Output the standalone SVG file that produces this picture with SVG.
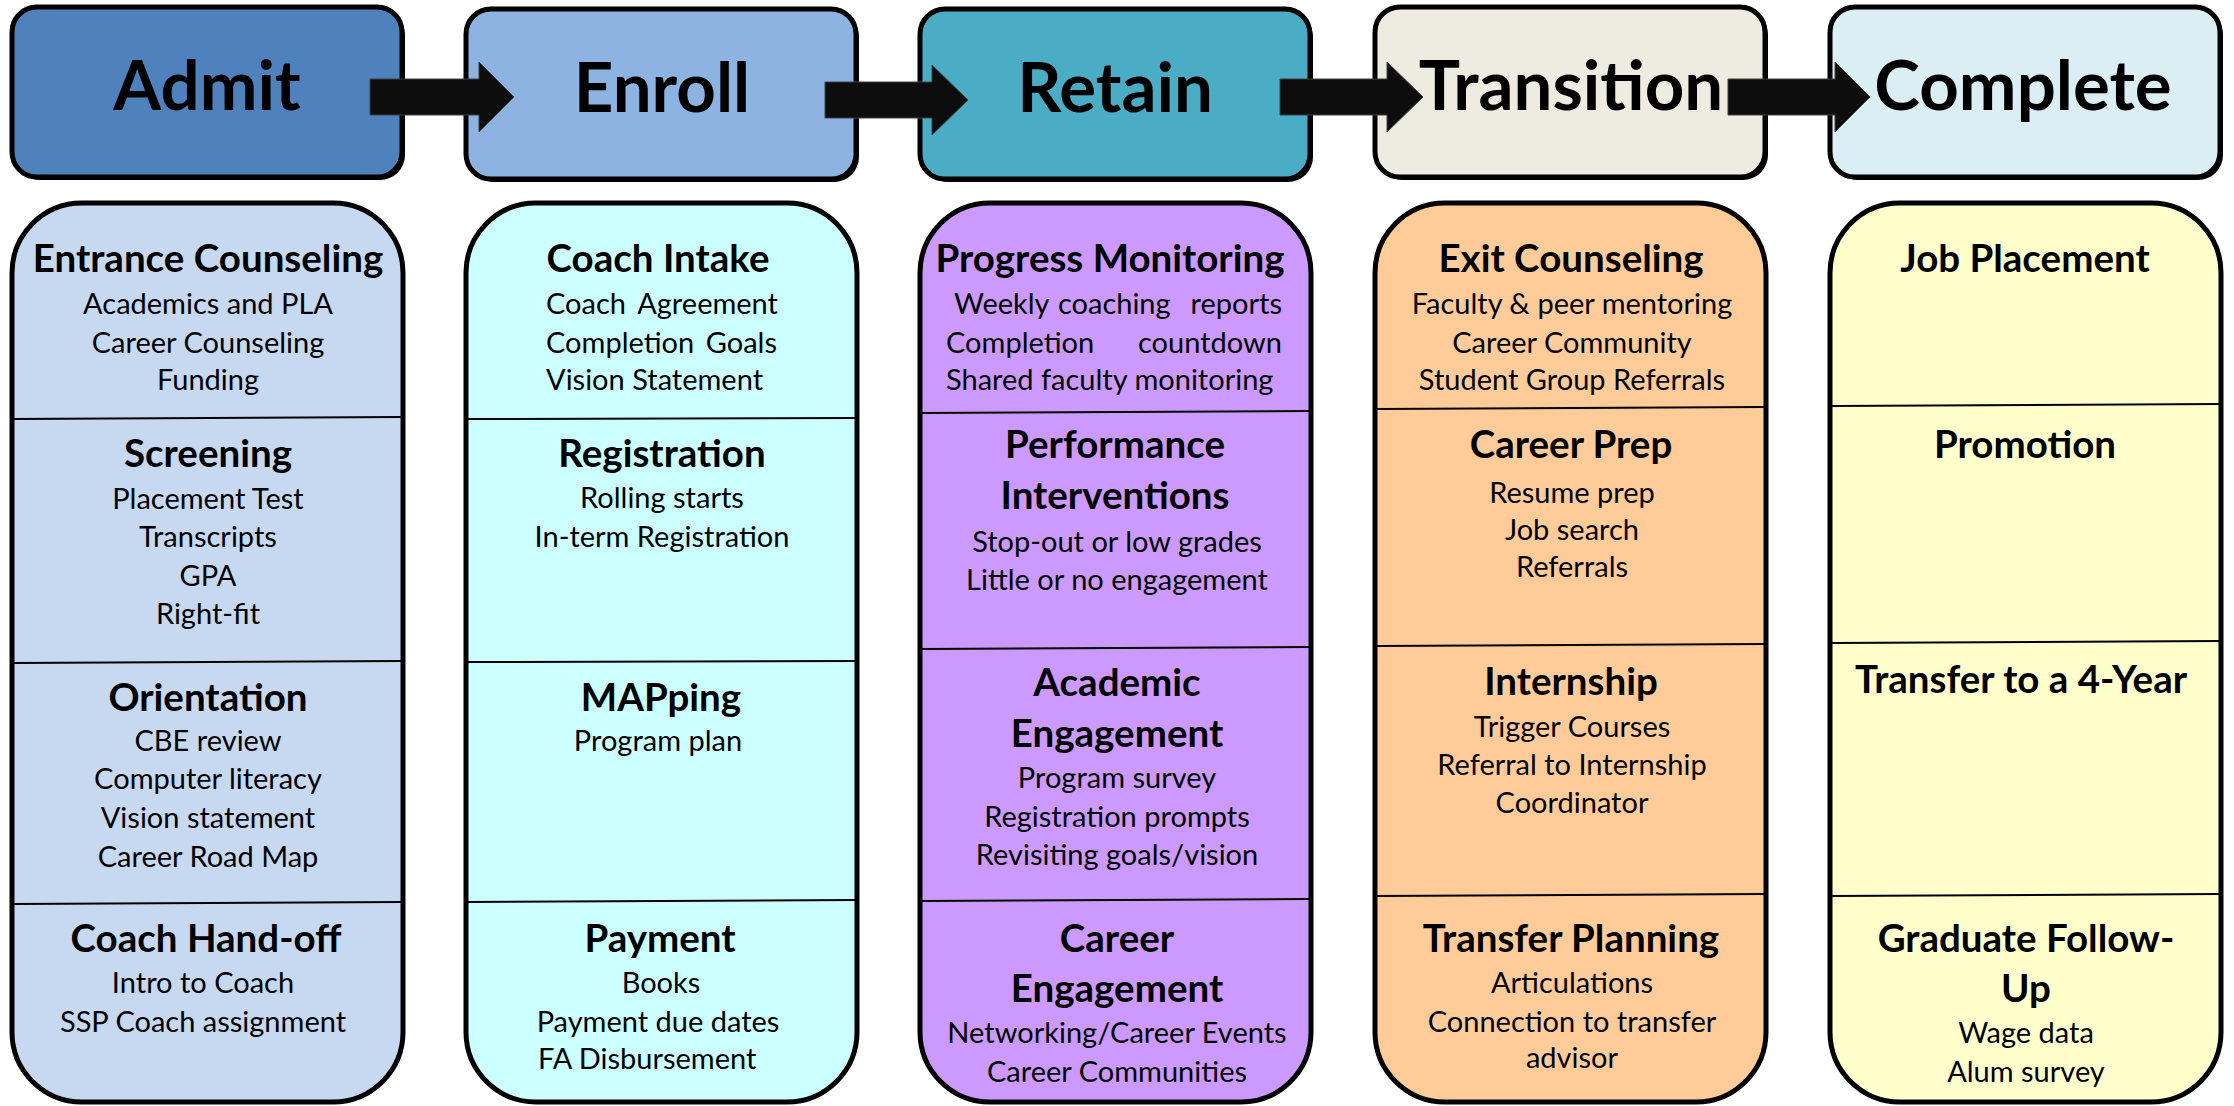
<svg xmlns="http://www.w3.org/2000/svg" width="2234" height="1106" viewBox="0 0 2234 1106">
<style>
text{font-family:Lato,"Liberation Sans",sans-serif;fill:#000;text-anchor:middle}
.t{font-size:69px;font-weight:700}
.h{font-size:38.5px;font-weight:700}
.b{font-size:29px}
.top{stroke:#000;stroke-width:5}
.shadow{fill:#000}
.col{stroke:#000;stroke-width:5}
.div{stroke:#000;stroke-width:2}
.arr{fill:#0d0d0d;stroke:#404040;stroke-width:1}
.s{text-anchor:start}
.e{text-anchor:end}
</style>
<rect width="2234" height="1106" fill="#fff"/>

<g id="admit">
<rect class="shadow" x="15" y="10" width="390" height="170" rx="25"/>
<rect class="top" x="12" y="7" width="390" height="170" rx="25" fill="#4F81BD"/>
<text class="t" x="207" y="110">Admit</text>
</g>
<g id="enroll">
<rect class="shadow" x="469" y="12" width="390" height="170" rx="25"/>
<rect class="top" x="466" y="9" width="390" height="170" rx="25" fill="#8DB3E2"/>
<text class="t" x="662" y="112">Enroll</text>
</g>
<g id="retain">
<rect class="shadow" x="923" y="12" width="390" height="170" rx="25"/>
<rect class="top" x="920" y="9" width="390" height="170" rx="25" fill="#4BACC6"/>
<text class="t" x="1115" y="112">Retain</text>
</g>
<g id="transition">
<rect class="shadow" x="1378" y="10" width="390" height="170" rx="25"/>
<rect class="top" x="1375" y="7" width="390" height="170" rx="25" fill="#EEECE1"/>
<text class="t" x="1571" y="110">Transition</text>
</g>
<g id="complete">
<rect class="shadow" x="1833" y="10" width="390" height="170" rx="25"/>
<rect class="top" x="1830" y="7" width="390" height="170" rx="25" fill="#DBEEF4"/>
<text class="t" x="2023" y="110">Complete</text>
</g>

<g id="admit-steps">
<rect class="col" x="12" y="203" width="391" height="899" rx="70" fill="#C6D9F1"/>
<line class="div" x1="12" y1="419" x2="403" y2="417"/>
<line class="div" x1="12" y1="663" x2="403" y2="661"/>
<line class="div" x1="12" y1="904" x2="403" y2="902"/>
<text class="h" x="208" y="272">Entrance Counseling</text>
<text class="b" x="208" y="314">Academics and PLA</text>
<text class="b" x="208" y="353">Career Counseling</text>
<text class="b" x="208" y="390">Funding</text>
<text class="h" x="208" y="467">Screening</text>
<text class="b" x="208" y="509">Placement Test</text>
<text class="b" x="208" y="547">Transcripts</text>
<text class="b" x="208" y="586">GPA</text>
<text class="b" x="208" y="624">Right-fit</text>
<text class="h" x="208" y="711">Orientation</text>
<text class="b" x="208" y="751">CBE review</text>
<text class="b" x="208" y="789">Computer literacy</text>
<text class="b" x="208" y="828">Vision statement</text>
<text class="b" x="208" y="867">Career Road Map</text>
<text class="h" x="206" y="952">Coach Hand-off</text>
<text class="b" x="203" y="993">Intro to Coach</text>
<text class="b" x="203" y="1032">SSP Coach assignment</text>
</g>

<g id="enroll-steps">
<rect class="col" x="466" y="203" width="391" height="899" rx="70" fill="#CCFFFF"/>
<line class="div" x1="466" y1="419" x2="857" y2="418"/>
<line class="div" x1="466" y1="662" x2="857" y2="661"/>
<line class="div" x1="466" y1="902" x2="857" y2="900"/>
<text class="h" x="658" y="272">Coach Intake</text>
<text class="b"><tspan class="s" x="546" y="314">Coach </tspan><tspan class="e" x="778" y="314">Agreement</tspan></text>
<text class="b"><tspan class="s" x="546" y="353">Completion </tspan><tspan class="e" x="777" y="353">Goals</tspan></text>
<text class="b s" x="546" y="390">Vision Statement</text>
<text class="h" x="662" y="467">Registration</text>
<text class="b" x="662" y="508">Rolling starts</text>
<text class="b" x="662" y="547">In-term Registration</text>
<text class="h" x="661" y="711">MAPping</text>
<text class="b" x="658" y="751">Program plan</text>
<text class="h" x="660" y="952">Payment</text>
<text class="b" x="661" y="993">Books</text>
<text class="b" x="658" y="1032">Payment due dates</text>
<text class="b s" x="538" y="1069">FA Disbursement</text>
</g>

<g id="retain-steps">
<rect class="col" x="920" y="203" width="391" height="899" rx="70" fill="#CC99FF"/>
<line class="div" x1="920" y1="413" x2="1311" y2="411"/>
<line class="div" x1="920" y1="649" x2="1311" y2="647"/>
<line class="div" x1="920" y1="901" x2="1311" y2="899"/>
<text class="h" x="1110" y="272">Progress Monitoring</text>
<text class="b"><tspan class="s" x="954" y="314">Weekly </tspan><tspan x="1118" y="314">coaching </tspan><tspan class="e" x="1282" y="314">reports</tspan></text>
<text class="b"><tspan class="s" x="946" y="353">Completion </tspan><tspan class="e" x="1282" y="353">countdown</tspan></text>
<text class="b s" x="946" y="390">Shared faculty monitoring</text>
<text class="h" x="1115" y="458">Performance</text>
<text class="h" x="1115" y="509">Interventions</text>
<text class="b" x="1117" y="552">Stop-out or low grades</text>
<text class="b" x="1117" y="590">Little or no engagement</text>
<text class="h" x="1117" y="696">Academic</text>
<text class="h" x="1117" y="747">Engagement</text>
<text class="b" x="1117" y="788">Program survey</text>
<text class="b" x="1117" y="827">Registration prompts</text>
<text class="b" x="1117" y="865">Revisiting goals/vision</text>
<text class="h" x="1117" y="952">Career</text>
<text class="h" x="1117" y="1002">Engagement</text>
<text class="b" x="1117" y="1043">Networking/Career Events</text>
<text class="b" x="1117" y="1082">Career Communities</text>
</g>

<g id="transition-steps">
<rect class="col" x="1375" y="203" width="391" height="899" rx="70" fill="#FFCC99"/>
<line class="div" x1="1375" y1="409" x2="1766" y2="407"/>
<line class="div" x1="1375" y1="646" x2="1766" y2="644"/>
<line class="div" x1="1375" y1="896" x2="1766" y2="894"/>
<text class="h" x="1571" y="272">Exit Counseling</text>
<text class="b" x="1572" y="314">Faculty &amp; peer mentoring</text>
<text class="b" x="1572" y="353">Career Community</text>
<text class="b" x="1572" y="390">Student Group Referrals</text>
<text class="h" x="1571" y="458">Career Prep</text>
<text class="b" x="1572" y="503">Resume prep</text>
<text class="b" x="1572" y="540">Job search</text>
<text class="b" x="1572" y="577">Referrals</text>
<text class="h" x="1571" y="695">Internship</text>
<text class="b" x="1572" y="737">Trigger Courses</text>
<text class="b" x="1572" y="775">Referral to Internship</text>
<text class="b" x="1572" y="813">Coordinator</text>
<text class="h" x="1571" y="952">Transfer Planning</text>
<text class="b" x="1572" y="993">Articulations</text>
<text class="b" x="1572" y="1032">Connection to transfer</text>
<text class="b" x="1572" y="1068">advisor</text>
</g>

<g id="complete-steps">
<rect class="col" x="1830" y="203" width="391" height="899" rx="70" fill="#FFFFCC"/>
<line class="div" x1="1830" y1="406" x2="2221" y2="404"/>
<line class="div" x1="1830" y1="643" x2="2221" y2="641"/>
<line class="div" x1="1830" y1="896" x2="2221" y2="894"/>
<text class="h" x="2025" y="272">Job Placement</text>
<text class="h" x="2025" y="458">Promotion</text>
<text class="h" x="2021" y="693">Transfer to a 4-Year</text>
<text class="h" x="2026" y="952">Graduate Follow-</text>
<text class="h" x="2026" y="1002">Up</text>
<text class="b" x="2026" y="1043">Wage data</text>
<text class="b" x="2026" y="1082">Alum survey</text>
</g>

<g id="connectors">
<polygon class="arr" points="370,79 479,79 479,62 514,97 479,132 479,115 370,115"/>
<polygon class="arr" points="825,82 932,82 932,65 968,100 932,135 932,118 825,118"/>
<polygon class="arr" points="1280,79 1387,79 1387,62 1423,97 1387,132 1387,115 1280,115"/>
<polygon class="arr" points="1728,79 1835,79 1835,62 1870,97 1835,132 1835,115 1728,115"/>
</g>
</svg>
